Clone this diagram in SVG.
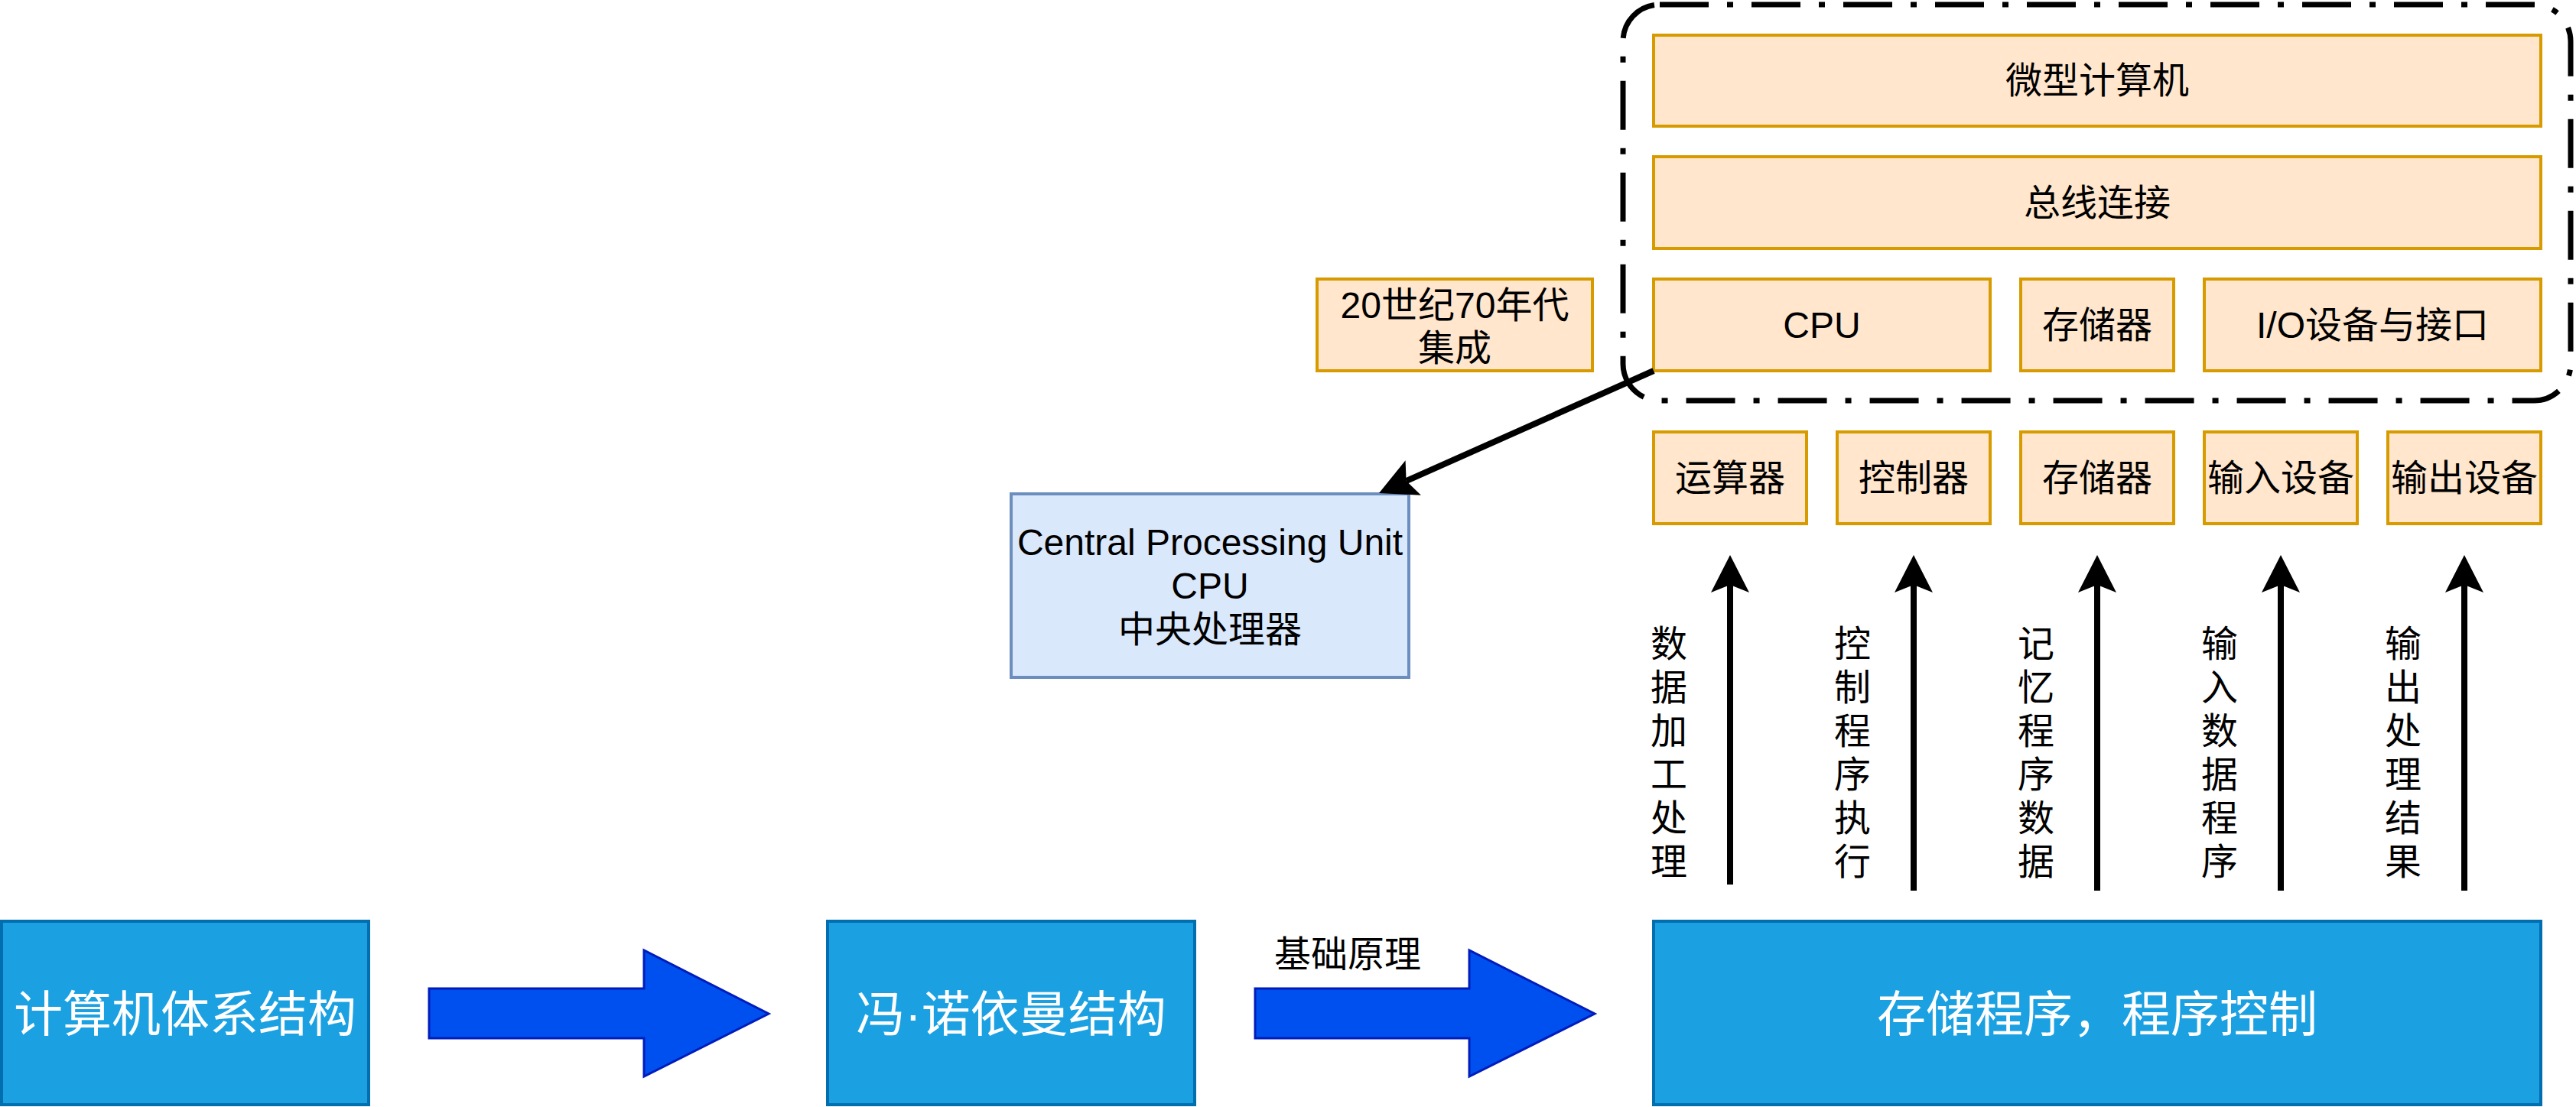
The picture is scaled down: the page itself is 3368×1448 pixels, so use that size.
<svg xmlns="http://www.w3.org/2000/svg" width="3368" height="1448" viewBox="0 0 3368 1448">
<style>
.o{fill:#ffe6cc;stroke:#d79b00;stroke-width:4}
.b{fill:#1ba1e2;stroke:#006eaf;stroke-width:4}
.c{fill:#dae8fc;stroke:#6c8ebf;stroke-width:4}
.t{font-family:"Liberation Sans","Noto Sans CJK SC",sans-serif;font-size:48px;fill:#000;text-anchor:middle}
.w{fill:#fff;font-size:64px}
.arr{stroke:#000;stroke-width:8;fill:none;marker-end:url(#ah)}
.big{fill:#0050ef;stroke:#001dbc;stroke-width:3}
.grp{fill:none;stroke:#000;stroke-width:7;stroke-dasharray:64 24 8 24}
</style>
<defs>
<marker id="ah" markerUnits="userSpaceOnUse" markerWidth="60" markerHeight="60" viewBox="0 0 60 60" refX="10" refY="30" orient="auto" overflow="visible">
<path d="M49,30 L0,5 L10,30 L0,55 Z" fill="#000"/>
</marker>
</defs>
<rect width="3368" height="1448" fill="#fff"/>

<g id="container">
<rect class="grp" x="2122" y="6" width="1239" height="518" rx="48" ry="48"/>
</g>

<g id="micro"><rect class="o" x="2162" y="46" width="1160" height="119"/><text class="t" x="2742" y="122">微型计算机</text></g>
<g id="bus"><rect class="o" x="2162" y="205" width="1160" height="120"/><text class="t" x="2742" y="282">总线连接</text></g>
<g id="cpu"><rect class="o" x="2162" y="365" width="440" height="120"/><text class="t" x="2382" y="442">CPU</text></g>
<g id="mem"><rect class="o" x="2642" y="365" width="200" height="120"/><text class="t" x="2742" y="442">存储器</text></g>
<g id="io"><rect class="o" x="2882" y="365" width="440" height="120"/><text class="t" x="3102" y="442">I/O设备与接口</text></g>

<g id="era"><rect class="o" x="1722" y="365" width="360" height="120"/><text class="t" x="1902" y="416">20世纪70年代</text><text class="t" x="1902" y="472">集成</text></g>

<g id="cpudesc"><rect class="c" x="1322" y="646" width="520" height="240"/>
<text class="t" x="1582" y="726">Central Processing Unit</text>
<text class="t" x="1582" y="783">CPU</text>
<text class="t" x="1582" y="840">中央处理器</text></g>

<g id="alu"><rect class="o" x="2162" y="565" width="200" height="120"/><text class="t" x="2262" y="642">运算器</text></g>
<g id="ctrl"><rect class="o" x="2402" y="565" width="200" height="120"/><text class="t" x="2502" y="642">控制器</text></g>
<g id="mem2"><rect class="o" x="2642" y="565" width="200" height="120"/><text class="t" x="2742" y="642">存储器</text></g>
<g id="in"><rect class="o" x="2882" y="565" width="200" height="120"/><text class="t" x="2982" y="642">输入设备</text></g>
<g id="out"><rect class="o" x="3122" y="565" width="200" height="120"/><text class="t" x="3222" y="642">输出设备</text></g>

<g id="arch"><rect class="b" x="2" y="1205" width="480" height="240"/><text class="t w" x="242" y="1349">计算机体系结构</text></g>
<g id="vn"><rect class="b" x="1082" y="1205" width="480" height="240"/><text class="t w" x="1322" y="1349">冯·诺依曼结构</text></g>
<g id="sp"><rect class="b" x="2162" y="1205" width="1160" height="240"/><text class="t w" x="2742" y="1349">存储程序，程序控制</text></g>

<g id="connectors">
<polygon class="big" points="561,1293 842,1293 842,1243 1005,1326 842,1408 842,1358 561,1358"/>
<polygon class="big" points="1641,1293 1921,1293 1921,1243 2085,1326 1921,1408 1921,1358 1641,1358"/>
<text class="t" x="1762" y="1265">基础原理</text>
<line class="arr" x1="2162" y1="485" x2="1838.6" y2="629.1"/>
<line class="arr" x1="2262" y1="1157" x2="2262" y2="765"/>
<line class="arr" x1="2502" y1="1165" x2="2502" y2="765"/>
<line class="arr" x1="2742" y1="1165" x2="2742" y2="765"/>
<line class="arr" x1="2982" y1="1165" x2="2982" y2="765"/>
<line class="arr" x1="3222" y1="1165" x2="3222" y2="765"/>
<text class="t"><tspan x="2182" y="859">数</tspan><tspan x="2182" dy="57">据</tspan><tspan x="2182" dy="57">加</tspan><tspan x="2182" dy="57">工</tspan><tspan x="2182" dy="57">处</tspan><tspan x="2182" dy="57">理</tspan></text>
<text class="t"><tspan x="2422" y="859">控</tspan><tspan x="2422" dy="57">制</tspan><tspan x="2422" dy="57">程</tspan><tspan x="2422" dy="57">序</tspan><tspan x="2422" dy="57">执</tspan><tspan x="2422" dy="57">行</tspan></text>
<text class="t"><tspan x="2662" y="859">记</tspan><tspan x="2662" dy="57">忆</tspan><tspan x="2662" dy="57">程</tspan><tspan x="2662" dy="57">序</tspan><tspan x="2662" dy="57">数</tspan><tspan x="2662" dy="57">据</tspan></text>
<text class="t"><tspan x="2902" y="859">输</tspan><tspan x="2902" dy="57">入</tspan><tspan x="2902" dy="57">数</tspan><tspan x="2902" dy="57">据</tspan><tspan x="2902" dy="57">程</tspan><tspan x="2902" dy="57">序</tspan></text>
<text class="t"><tspan x="3142" y="859">输</tspan><tspan x="3142" dy="57">出</tspan><tspan x="3142" dy="57">处</tspan><tspan x="3142" dy="57">理</tspan><tspan x="3142" dy="57">结</tspan><tspan x="3142" dy="57">果</tspan></text>
</g>
</svg>
